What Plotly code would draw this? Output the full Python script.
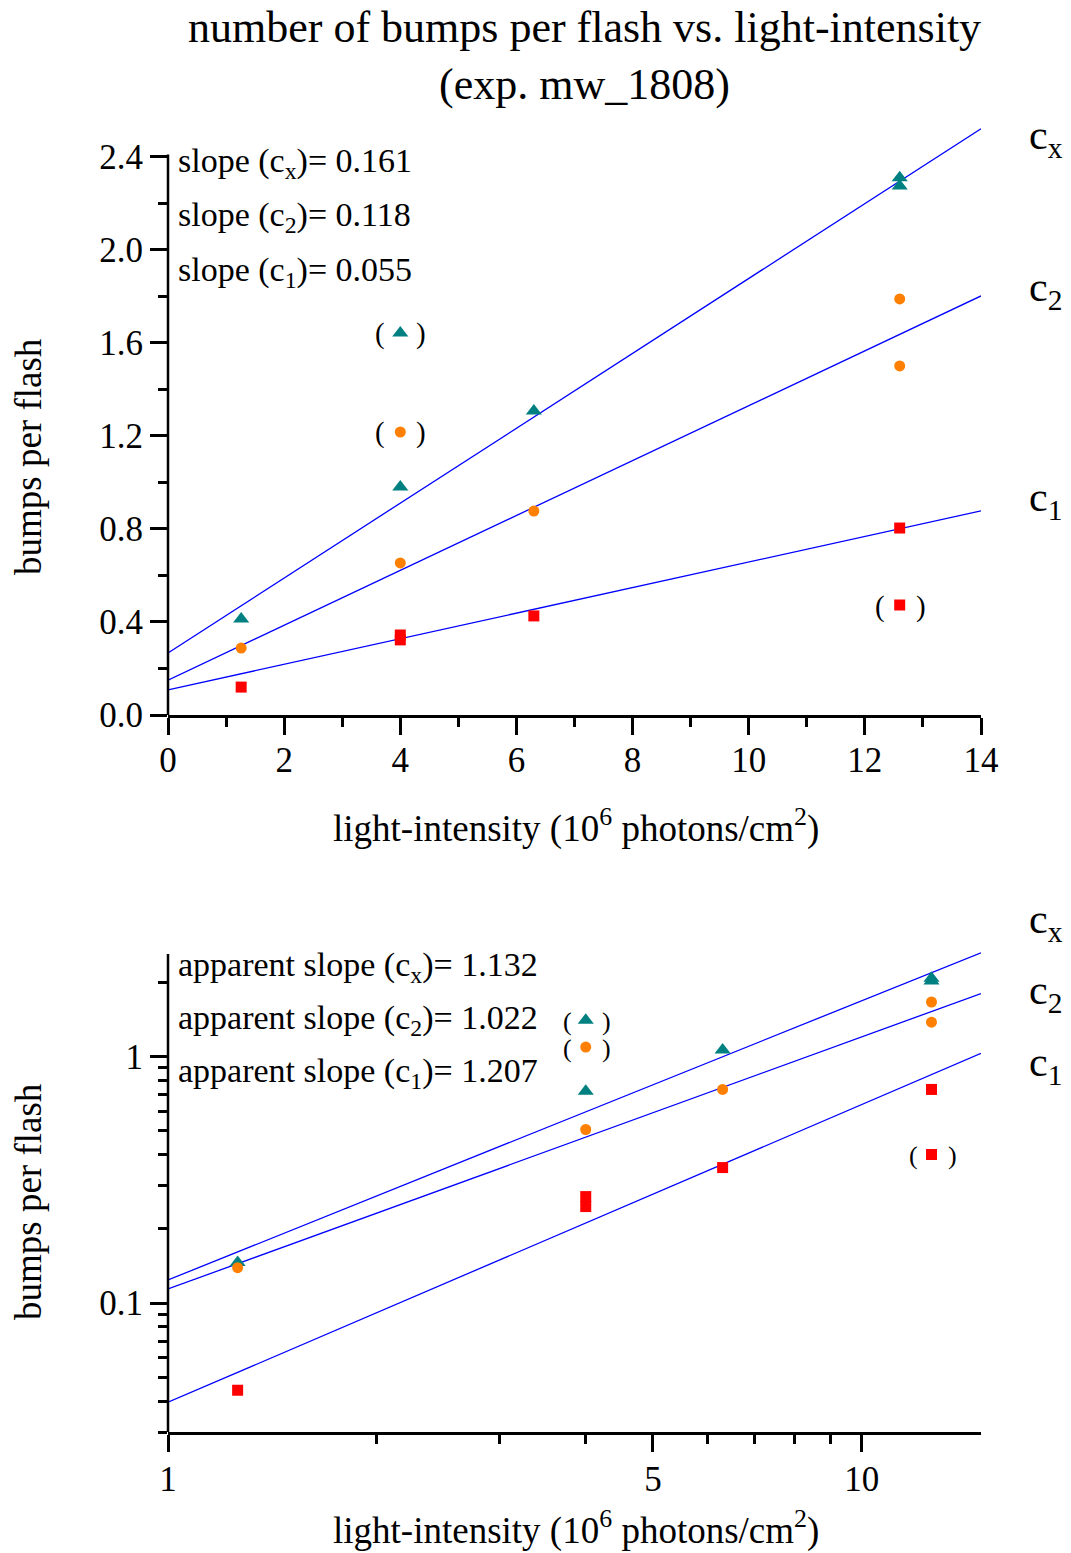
import numpy as np
import plotly.graph_objects as go

W, H = 1071, 1553
FONT = "Liberation Serif"

# ---------------- data: linear plot ----------------
lin_cx_x = [1.26, 4.0, 6.3, 12.6, 12.6]
lin_cx_y = [0.413, 0.98, 1.307, 2.31, 2.275]
lin_cx_ex_x = [4.0]
lin_cx_ex_y = [1.643]

lin_c2_x = [1.26, 4.0, 6.3, 12.6, 12.6]
lin_c2_y = [0.288, 0.654, 0.877, 1.789, 1.501]
lin_c2_ex_x = [4.0]
lin_c2_ex_y = [1.217]

lin_c1_x = [1.26, 4.0, 4.0, 6.3, 12.6]
lin_c1_y = [0.12, 0.344, 0.323, 0.426, 0.804]
lin_c1_ex_x = [12.6]
lin_c1_ex_y = [0.473]

lin_fit_x = [0, 14]
lin_intercepts = {"cx": 0.267, "c2": 0.150, "c1": 0.108}
lin_slopes = {"cx": 0.161, "c2": 0.118, "c1": 0.055}

# ---------------- data: log-log plot ----------------
log_cx_x = [1.26, 4.0, 6.3, 12.6, 12.6]
log_cx_y = [0.146, 0.721, 1.06, 2.07, 2.02]
log_cx_ex_x = [4.0]
log_cx_ex_y = [1.40]

log_c2_x = [1.26, 4.0, 6.3, 12.6, 12.6]
log_c2_y = [0.139, 0.505, 0.734, 1.66, 1.375]
log_c2_ex_x = [4.0]
log_c2_ex_y = [1.09]

log_c1_x = [1.26, 4.0, 4.0, 6.3, 12.6]
log_c1_y = [0.0443, 0.27, 0.246, 0.354, 0.734]
log_c1_ex_x = [12.6]
log_c1_ex_y = [0.40]

log_fit_x = [1, 14.85]
log_prefactors = {"cx": 0.124, "c2": 0.114, "c1": 0.0396}
log_exponents = {"cx": 1.132, "c2": 1.022, "c1": 1.207}

# axes / tick labels
lin_x_ticks = [0, 2, 4, 6, 8, 10, 12, 14]
lin_y_ticks = [0.0, 0.4, 0.8, 1.2, 1.6, 2.0, 2.4]
lin_y_minor = [0.2, 0.6, 1.0, 1.4, 1.8, 2.2]
lin_y_axis_top = 2.41
log_x_ticks = [1, 5, 10]
log_x_minor = [2, 3, 4, 6, 7, 8, 9]
log_y_ticks = [0.1, 1]
log_y_minor = [0.03, 0.04, 0.05, 0.06, 0.07, 0.08, 0.09,
               0.2, 0.3, 0.4, 0.5, 0.6, 0.7, 0.8, 0.9, 2]
log_y_axis_bottom, log_y_axis_top = 0.03, 2.6

TEAL, ORANGE, RED, BLUE = "#008080", "#FF8000", "#FF0000", "#0000FF"


def px(x):
    return x / W


def py(y):
    return 1 - y / H


fig = go.Figure()

series_style = {
    "cx": dict(color=TEAL, symbol="triangle-up", size=14),
    "c2": dict(color=ORANGE, symbol="circle", size=11),
    "c1": dict(color=RED, symbol="square", size=11),
}

lin_data = {
    "cx": (lin_cx_x, lin_cx_y, lin_cx_ex_x, lin_cx_ex_y),
    "c2": (lin_c2_x, lin_c2_y, lin_c2_ex_x, lin_c2_ex_y),
    "c1": (lin_c1_x, lin_c1_y, lin_c1_ex_x, lin_c1_ex_y),
}
log_data = {
    "cx": (log_cx_x, log_cx_y, log_cx_ex_x, log_cx_ex_y),
    "c2": (log_c2_x, log_c2_y, log_c2_ex_x, log_c2_ex_y),
    "c1": (log_c1_x, log_c1_y, log_c1_ex_x, log_c1_ex_y),
}

annotations = []

# fit lines
for k in ["cx", "c2", "c1"]:
    fx = np.array(lin_fit_x, dtype=float)
    fig.add_trace(go.Scatter(x=fx, y=lin_intercepts[k] + lin_slopes[k] * fx,
                             mode="lines", line=dict(color=BLUE, width=1.3),
                             xaxis="x", yaxis="y", showlegend=False))
    fx2 = np.array(log_fit_x, dtype=float)
    fig.add_trace(go.Scatter(x=fx2, y=log_prefactors[k] * fx2 ** log_exponents[k],
                             mode="lines", line=dict(color=BLUE, width=1.3),
                             xaxis="x2", yaxis="y2", showlegend=False))

for k in ["cx", "c2", "c1"]:
    st = series_style[k]
    mk = dict(color=st["color"], symbol=st["symbol"], size=st["size"], line=dict(width=0))
    x, y, ex, ey = lin_data[k]
    fig.add_trace(go.Scatter(x=x + ex, y=y + ey, mode="markers", marker=mk,
                             xaxis="x", yaxis="y", showlegend=False))
    for a, b in zip(ex, ey):
        for t, s in (("(", -20), (")", 21)):
            annotations.append(dict(x=a, y=b, xref="x", yref="y", text=t, showarrow=False,
                                    xshift=s, yshift=-1, font=dict(family=FONT, size=29, color="black")))
    x, y, ex, ey = log_data[k]
    fig.add_trace(go.Scatter(x=x + ex, y=y + ey, mode="markers", marker=mk,
                             xaxis="x2", yaxis="y2", showlegend=False))
    for a, b in zip(ex, ey):
        for t, s in (("(", -18), (")", 21)):
            annotations.append(dict(x=np.log10(a), y=np.log10(b), xref="x2", yref="y2", text=t,
                                    showarrow=False, xshift=s, yshift=-1,
                                    font=dict(family=FONT, size=26, color="black")))

# slope texts
TXT = 34
lin_labels = [("x", lin_slopes["cx"]), ("2", lin_slopes["c2"]), ("1", lin_slopes["c1"])]
for i, (s, v) in enumerate(lin_labels):
    annotations.append(dict(x=px(176), y=py(163 + 54.5 * i), xref="paper", yref="paper",
                            xanchor="left", yanchor="middle", showarrow=False,
                            text=f"slope (c<sub>{s}</sub>)= {v:.3f}",
                            font=dict(family=FONT, size=TXT, color="black")))
log_labels = [("x", log_exponents["cx"]), ("2", log_exponents["c2"]), ("1", log_exponents["c1"])]
for i, (s, v) in enumerate(log_labels):
    annotations.append(dict(x=px(176), y=py(967 + 53 * i), xref="paper", yref="paper",
                            xanchor="left", yanchor="middle", showarrow=False,
                            text=f"apparent slope (c<sub>{s}</sub>)= {v:.3f}",
                            font=dict(family=FONT, size=TXT, color="black")))

# curve labels at right
for s, yy in (("x", 138), ("2", 290), ("1", 500), ("x", 922), ("2", 993), ("1", 1065)):
    annotations.append(dict(x=px(1027), y=py(yy), xref="paper", yref="paper",
                            xanchor="left", yanchor="middle", showarrow=False,
                            text=f"c<sub>{s}</sub>",
                            font=dict(family=FONT, size=42, color="black")))

# titles
annotations.append(dict(x=px(585), y=py(28), xref="paper", yref="paper", showarrow=False,
                        xanchor="center", yanchor="middle",
                        text="number of bumps per flash vs. light-intensity",
                        font=dict(family=FONT, size=44, color="black")))
annotations.append(dict(x=px(585), y=py(85), xref="paper", yref="paper", showarrow=False,
                        xanchor="center", yanchor="middle", text="(exp. mw_1808)",
                        font=dict(family=FONT, size=44, color="black")))

xtitle = "light-intensity (10<sup>6</sup> photons/cm<sup>2</sup>)"
for yy in (826, 1528):
    annotations.append(dict(x=px(576), y=py(yy), xref="paper", yref="paper", showarrow=False,
                            xanchor="center", yanchor="middle", text=xtitle,
                            font=dict(family=FONT, size=37, color="black")))
for yy in (457, 1202):
    annotations.append(dict(x=px(28), y=py(yy), xref="paper", yref="paper", showarrow=False,
                            xanchor="center", yanchor="middle",
                            textangle=-90, text="bumps per flash",
                            font=dict(family=FONT, size=37, color="black")))

LW = 2.5
axis_common = dict(linecolor="black", linewidth=LW, ticks="outside",
                   tickwidth=LW, tickcolor="black", ticklen=17, showgrid=False,
                   zeroline=False, automargin=False,
                   tickfont=dict(family=FONT, size=35, color="black"))
minor_common = dict(ticklen=9, tickwidth=LW, tickcolor="black", ticks="outside", showgrid=False)

# y-axis lines drawn only up to the last tick (fit lines run above it)
shapes = [
    dict(type="line", xref="x domain", yref="y", x0=0, x1=0, y0=0, y1=lin_y_axis_top,
         line=dict(color="black", width=LW)),
    dict(type="line", xref="x2 domain", yref="y2", x0=0, x1=0,
         y0=log_y_axis_bottom, y1=log_y_axis_top,
         line=dict(color="black", width=LW)),
]

xdom = [px(168), px(981)]
fig.update_layout(
    width=W, height=H,
    margin=dict(l=0, r=0, t=0, b=0),
    paper_bgcolor="white", plot_bgcolor="white",
    showlegend=False,
    xaxis=dict(domain=xdom, anchor="y", range=[0, 14], tickvals=lin_x_ticks,
               ticktext=[str(v) for v in lin_x_ticks], showline=True, ticklabelstandoff=-5,
               minor=dict(dtick=1, tick0=0, **minor_common),
               **axis_common),
    yaxis=dict(domain=[py(715), py(122)], anchor="x", range=[0, 2.55], tickvals=lin_y_ticks,
               ticktext=[f"{v:.1f}" for v in lin_y_ticks], showline=False,
               minor=dict(tickmode="array", tickvals=lin_y_minor, **minor_common),
               **axis_common),
    xaxis2=dict(domain=xdom, anchor="y2", type="log", range=[0, np.log10(log_fit_x[1])],
                tickvals=log_x_ticks, ticktext=[str(v) for v in log_x_ticks], showline=True,
                ticklabelstandoff=-3,
                minor=dict(tickmode="array", tickvals=log_x_minor, **minor_common),
                **axis_common),
    yaxis2=dict(domain=[py(1432), py(946)], anchor="x2", type="log",
                range=[np.log10(log_y_axis_bottom), np.log10(2.8)],
                tickvals=log_y_ticks, ticktext=["0.1", "1"], showline=False,
                minor=dict(tickmode="array", tickvals=log_y_minor, **minor_common),
                **axis_common),
    annotations=annotations,
    shapes=shapes,
)

fig.write_html("out.html", config={"displayModeBar": False},
               post_script="document.body.style.margin='0';document.body.style.padding='0';")
